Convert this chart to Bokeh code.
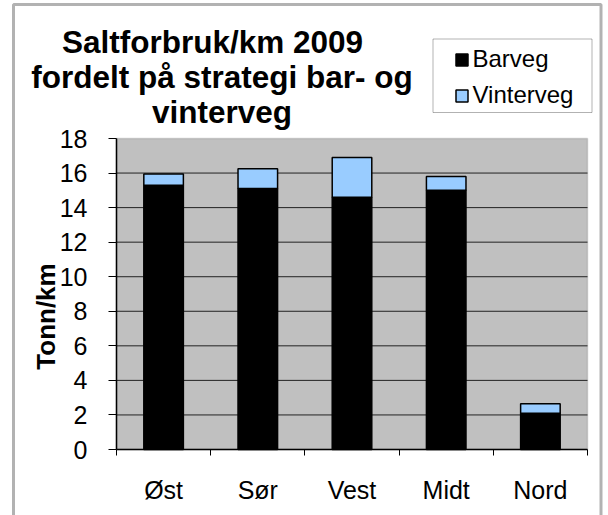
from bokeh.plotting import figure
from bokeh.models import (Range1d, FixedTicker, Label, Legend, LegendItem,
                          BoxAnnotation, ColumnDataSource)
from bokeh.embed import file_html
from bokeh.resources import INLINE

# ---- data ----
regions = ["Øst", "Sør", "Vest", "Midt", "Nord"]
barveg = [15.3, 15.1, 14.6, 15.0, 2.1]
vinterveg = [0.65, 1.15, 2.3, 0.8, 0.55]
series = ["Barveg", "Vinterveg"]
colors = ["#000000", "#99CCFF"]
y_ticks = [0, 2, 4, 6, 8, 10, 12, 14, 16, 18]
title_lines = ["Saltforbruk/km 2009", "fordelt på strategi bar- og", "vinterveg"]
y_label = "Tonn/km"

FONT = "Liberation Sans"

# ---- layout (pixels) ----
W, H = 608, 515
PL, PR, PT, PB = 116, 587, 138, 449   # plot-area edges on the canvas
n = len(regions)
ymin, ymax = y_ticks[0], y_ticks[-1]
xpx = (PR - PL) / n
ypx = (PB - PT) / (ymax - ymin)

pos = [i + 0.5 for i in range(n)]
source = ColumnDataSource(dict(x=pos, region=regions, Barveg=barveg, Vinterveg=vinterveg))

p = figure(width=W, height=H, output_backend="svg", toolbar_location=None, title=None,
           x_range=Range1d(-PL / xpx, n + (W - PR) / xpx),
           y_range=Range1d(ymin - (H - PB) / ypx, ymax + PT / ypx),
           min_border=0, min_border_left=0, min_border_right=0,
           min_border_top=0, min_border_bottom=0,
           background_fill_color="white", border_fill_color="white")
p.outline_line_color = None
p.xgrid.visible = False
p.ygrid.visible = False

# grey plot area with grey frame
p.add_layout(BoxAnnotation(left=0, right=n, bottom=ymin, top=ymax,
                           fill_color="#C0C0C0", fill_alpha=1,
                           line_color="#808080", line_width=1.5, level="image"))

# horizontal gridlines
grid_vals = y_ticks[1:-1]
p.segment(x0=[0] * len(grid_vals), x1=[n] * len(grid_vals), y0=grid_vals, y1=grid_vals,
          line_color="#222222", line_width=1, level="underlay")

# stacked bars
bars = p.vbar_stack(series, x="x", width=0.42, fill_color=colors, line_color="black",
                    line_width=1.5, source=source)

# x axis: labels at centres, ticks at category boundaries
xa = p.xaxis[0]
xa.fixed_location = ymin
xa.bounds = (0, n)
xa.ticker = FixedTicker(ticks=pos, minor_ticks=list(range(n + 1)))
xa.major_label_overrides = {x: r for x, r in zip(pos, regions)}
xa.major_tick_line_color = None
xa.major_tick_out = 0
xa.major_tick_in = 0
xa.minor_tick_line_color = "black"
xa.minor_tick_out = 6
xa.minor_tick_in = 0
xa.minor_tick_line_width = 1
xa.major_label_standoff = 20
xa.major_label_text_font = FONT
xa.major_label_text_font_size = "25px"
xa.major_label_text_color = "black"
xa.axis_line_color = "black"
xa.axis_line_width = 1.5

# y axis
ya = p.yaxis[0]
ya.fixed_location = 0
ya.bounds = (ymin, ymax)
ya.ticker = FixedTicker(ticks=y_ticks, minor_ticks=[])
ya.major_tick_out = 8
ya.major_tick_in = 0
ya.major_tick_line_color = "black"
ya.major_label_standoff = 21
ya.major_label_text_font = FONT
ya.major_label_text_font_size = "25px"
ya.major_label_text_color = "black"
ya.axis_line_color = "black"
ya.axis_line_width = 1.5

# y-axis title, placed where the original has it
p.add_layout(Label(x=45, y=H - 316, x_units="screen", y_units="screen", text=y_label,
                   angle=90, angle_units="deg", text_align="center", text_baseline="middle",
                   text_font=FONT, text_font_size="26px", text_font_style="bold",
                   text_color="black"))

# title (three centred lines); screen y counted from the bottom
title_pos = [(212, H - 41), (221.5, H - 76.7), (221.5, H - 111.7)]
for txt, (sx, sy) in zip(title_lines, title_pos):
    p.add_layout(Label(x=sx, y=sy, x_units="screen", y_units="screen", text=txt,
                       text_align="center", text_baseline="alphabetic",
                       text_font=FONT, text_font_size="31.5px", text_font_style="bold",
                       text_color="black"))

# legend frame
p.add_layout(BoxAnnotation(left=432.5, right=591.5, top=H - 38.5, bottom=H - 112,
                           left_units="screen", right_units="screen",
                           top_units="screen", bottom_units="screen",
                           fill_color="white", fill_alpha=1,
                           line_color="black", line_width=1, level="guide"))

# legend
legend = Legend(items=[LegendItem(label=s, renderers=[r]) for s, r in zip(series, bars)],
                location=(453.5, H - 113), orientation="vertical",
                border_line_color=None, background_fill_alpha=0,
                padding=0, spacing=0, margin=0,
                glyph_width=15, glyph_height=15, label_standoff=4,
                label_height=36,
                label_text_font=FONT, label_text_font_size="24px",
                label_text_color="black")
p.add_layout(legend)

# outer chart border
p.add_layout(BoxAnnotation(left=13, right=600.5, top=H - 4, bottom=-30,
                           left_units="screen", right_units="screen",
                           top_units="screen", bottom_units="screen",
                           fill_alpha=0, line_color="black", line_width=3,
                           level="overlay"))

open("out.html", "w").write(file_html(p, INLINE))
